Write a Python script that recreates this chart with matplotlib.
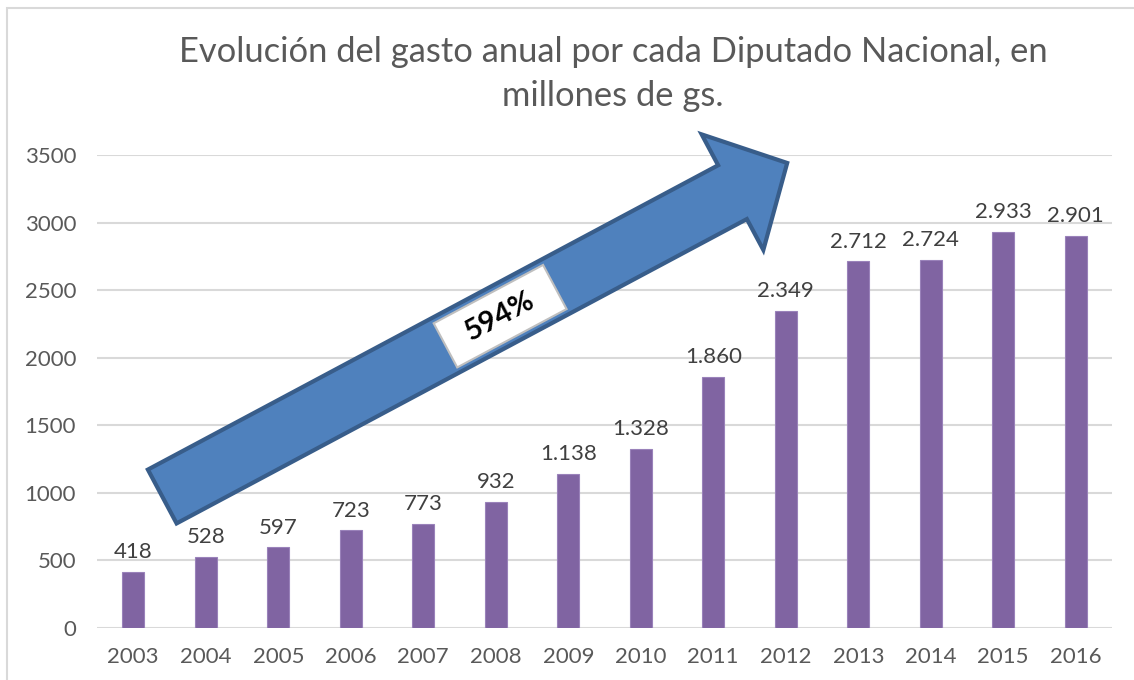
import numpy as np
import matplotlib
matplotlib.use('Agg')
import matplotlib.pyplot as plt
from matplotlib.patches import Polygon, Rectangle
from matplotlib.transforms import IdentityTransform

plt.rcParams['font.family'] = ['Lato', 'DejaVu Sans']

# Data
anios = ['2003', '2004', '2005', '2006', '2007', '2008', '2009',
         '2010', '2011', '2012', '2013', '2014', '2015', '2016']
gasto = [418, 528, 597, 723, 773, 932, 1138, 1328, 1860, 2349, 2712, 2724, 2933, 2901]
titulo = 'Evolución del gasto anual por cada Diputado Nacional, en\nmillones de gs.'
aumento = '594%'

W, H = 1134, 680
fig = plt.figure(figsize=(W / 100, H / 100), dpi=100)
ax = fig.add_axes([97 / W, 52 / H, (1112 - 97) / W, (628 - 155) / H])

x = np.arange(len(anios))
ax.bar(x, gasto, width=0.3, color='#8064A2', edgecolor='#9A82BA', linewidth=0.8, zorder=2)

for xi, v in zip(x, gasto):
    ax.annotate(f'{v:,}'.replace(',', '.'), (xi, v), xytext=(0, 7), textcoords='offset points',
                ha='center', va='bottom', fontsize=16, color='#404040')

ax.set_xlim(-0.5, len(anios) - 0.5)
ax.set_ylim(0, 3500)
ax.set_yticks(np.arange(0, 3501, 500))
ax.set_xticks(x)
ax.set_xticklabels(anios)
ax.tick_params(axis='both', length=0, labelsize=16, labelcolor='#595959')
ax.tick_params(axis='y', pad=15)
ax.tick_params(axis='x', pad=14)
ax.yaxis.grid(True, color='#D9D9D9', linewidth=1.5)
ax.set_axisbelow(True)
for s in ax.spines.values():
    s.set_visible(False)

# Title
fig.text(613 / W, 1 - 74 / H, titulo, ha='center', va='center', fontsize=24.8,
         color='#595959', linespacing=1.5)

# Big arrow (drawn in pixels, anchored to data points)
tail = ax.transData.transform((0.40, 973))
tip = ax.transData.transform((9.02, 3441))
L = np.hypot(*(tip - tail))
u = (tip - tail) / L
n = np.array([-u[1], u[0]])
w, hw, hl = 61, 131, 62
neck = tip - u * hl
pts = [tail + n * w / 2, neck + n * w / 2, neck + n * hw / 2, tip,
       neck - n * hw / 2, neck - n * w / 2, tail - n * w / 2]
flecha = Polygon(pts, closed=True, facecolor='#4F81BD', edgecolor='#385D8A',
                 linewidth=3, joinstyle='miter', transform=IdentityTransform(), zorder=5)
fig.add_artist(flecha)

# Label box on the arrow
c = tail + u * 383
bw, bh = 124, 50
caja = [c - u * bw / 2 + n * bh / 2, c + u * bw / 2 + n * bh / 2,
        c + u * bw / 2 - n * bh / 2, c - u * bw / 2 - n * bh / 2]
fig.add_artist(Polygon(caja, closed=True, facecolor='white', edgecolor='#BFBFBF',
                       linewidth=1.5, transform=IdentityTransform(), zorder=6))
ang = np.degrees(np.arctan2(u[1], u[0]))
fig.text(c[0] / W, c[1] / H, aumento, rotation=ang, rotation_mode='anchor',
         ha='center', va='center', fontsize=21, fontweight='bold', color='black', zorder=7)

# Chart border
fig.add_artist(Rectangle((7 / W, -0.1), 1.2, (H - 8) / H + 0.1, transform=fig.transFigure,
                         fill=False, edgecolor='#D9D9D9', linewidth=1.5))

fig.savefig('out.png', dpi=100)
